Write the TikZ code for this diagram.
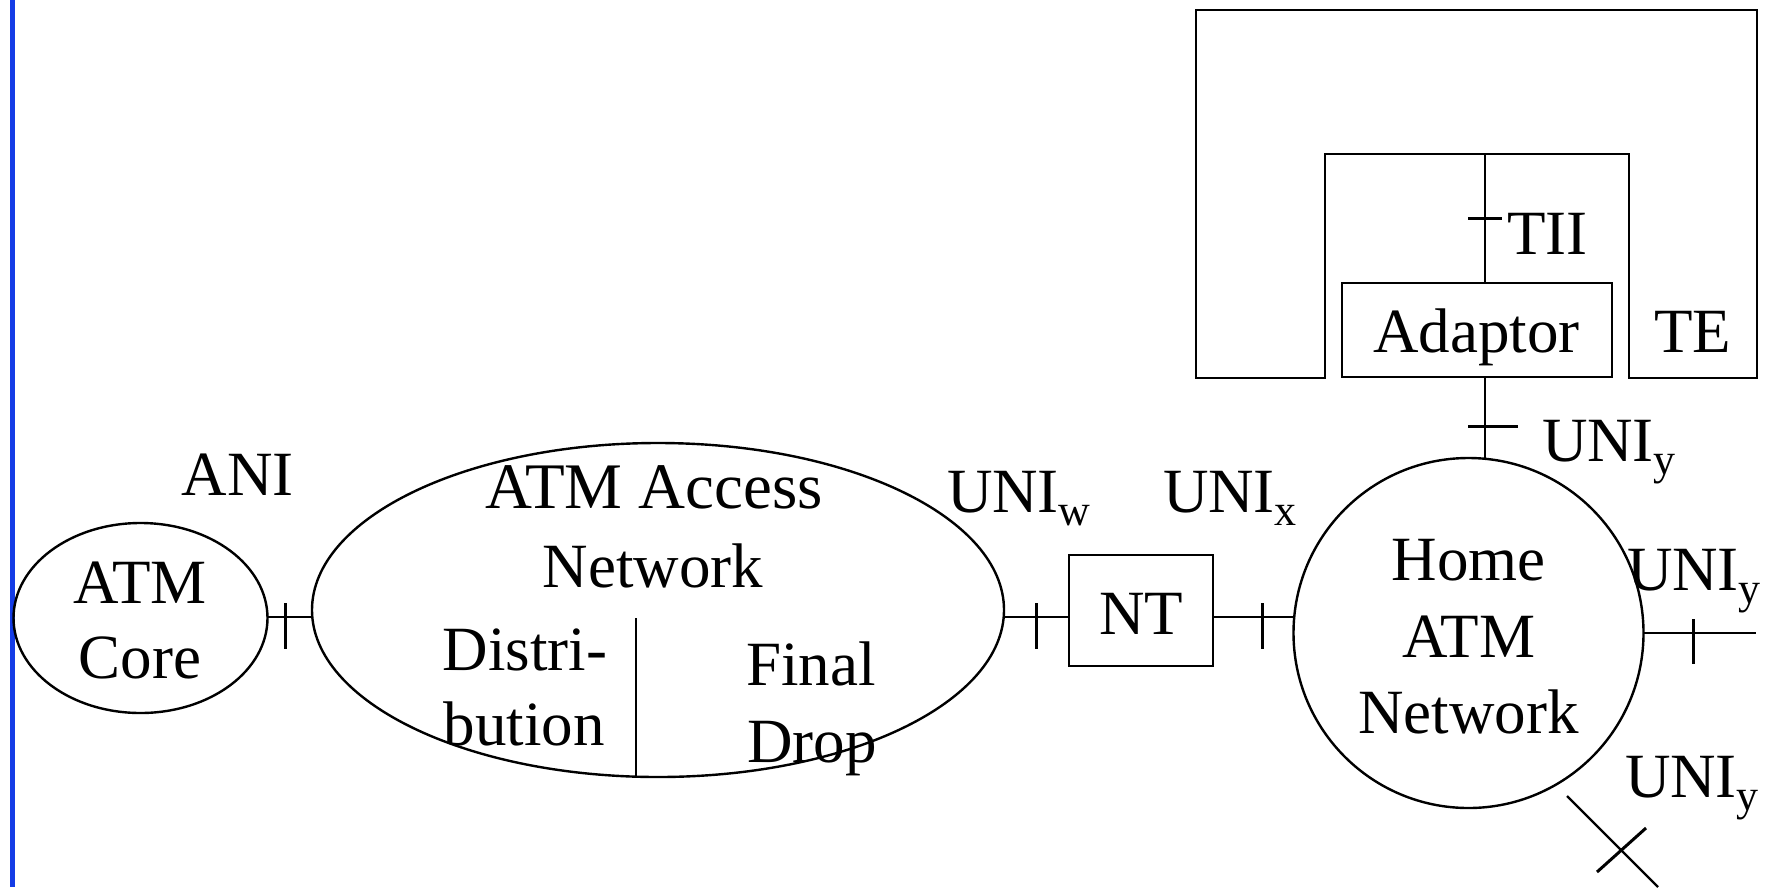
\documentclass[tikz,border=0pt]{standalone}
\usepackage{fontspec}
\setmainfont{Liberation Serif}
\usetikzlibrary{shapes.geometric,calc}
\definecolor{barblue}{RGB}{20,60,230}
\newcommand{\subtxt}[1]{\raisebox{-13pt}{\fontsize{44}{44}\selectfont #1}}
\begin{document}
\begin{tikzpicture}[x=1pt,y=-1pt,
  line/.style={line width=2.4pt},
  tickmark/.style={line width=3pt},
  shapebox/.style={draw,line width=2.4pt,inner sep=0pt,outer sep=0pt},
  txt/.style={inner sep=0pt,outer sep=0pt,anchor=base,font=\fontsize{63}{75}\selectfont},
  txtw/.style={txt,anchor=base west}]
\useasboundingbox (0,0) rectangle (1767,887);
% blue margin bar
\coordinate (bartop) at (12,0);
\coordinate (barbot) at (12,887);
\draw[barblue,line width=5pt] (bartop) -- (barbot);

% ATM core
\node[shapebox,ellipse,minimum width=254pt,minimum height=190pt] (core) at (140.5,618) {};
\node[txt] (coreA) at (140,603) {ATM};
\node[txt] (coreB) at (140,678) {Core};
\node[txt] (ani) at (237.5,495) {ANI};

% ATM access network
\node[shapebox,ellipse,minimum width=692pt,minimum height=334pt] (access) at (658,610) {};
\node[txt,font=\fontsize{65}{75}\selectfont] (accA) at (654,508) {ATM Access};
\node[txt] (accB) at (653,587) {Network};
\node[txt] (dist1) at (525,670) {Distri-};
\node[txt] (dist2) at (524,745) {bution};
\node[txt] (fin1) at (811,685) {Final};
\node[txt] (fin2) at (812,762) {Drop};
\coordinate (divtop) at (636,618);
\draw[line] (divtop) -- (divtop |- access.south);

% NT and home network
\node[shapebox,minimum width=144pt,minimum height=111pt] (nt) at (1141,610.5) {};
\node[txt] (ntT) at (1141,634) {NT};
\node[shapebox,circle,minimum size=350pt] (home) at (1468.5,633) {};
\node[txt] (homeA) at (1468.5,580) {Home};
\node[txt] (homeB) at (1468.5,657) {ATM};
\node[txt] (homeC) at (1468.5,733) {Network};

% horizontal chain
\coordinate (row) at (0,617);
\draw[line] (row -| core.east) -- (row -| access.west);
\draw[tickmark] (285,603) -- (285,649);
\draw[line] (row -| access.east) -- (row -| nt.west);
\draw[tickmark] (1036,603) -- (1036,649);
\draw[line] (row -| nt.east) -- (row -| home.west);
\draw[tickmark] (1262,603) -- (1262,649);
\node[txtw] (uniw) at (947,512) {UNI\subtxt{w}};
\node[txtw] (unix) at (1163,512) {UNI\subtxt{x}};

% TE and adaptor
\draw[line width=2.8pt] (1196,10) -- (1757,10) -- (1757,378) -- (1629,378) -- (1629,154)
  -- (1325,154) -- (1325,378) -- (1196,378) -- cycle;
\node[txt] (te) at (1692.5,352) {TE};
\node[shapebox,minimum width=270pt,minimum height=94pt] (adaptor) at (1477,330) {};
\node[txt] (adaptorT) at (1476.5,352) {Adaptor};
\coordinate (tiitop) at (1485,154);
\draw[line] (tiitop) -- (tiitop |- adaptor.north);
\draw[tickmark] (1468,218) -- (1502,218);
\node[txtw] (tii) at (1507,254) {TII};
\draw[line] (tiitop |- adaptor.south) -- (tiitop |- home.north);
\draw[tickmark] (1468,426) -- (1518,426);
\node[txtw] (uniyA) at (1542,461) {UNI\subtxt{y}};

% right-hand connector
\coordinate (rend) at (1756,633);
\draw[line] (home.east) -- (rend);
\draw[tickmark] (1693,619) -- (1693,664);
\node[txtw] (uniyB) at (1627,590) {UNI\subtxt{y}};

% lower diagonal connector
\coordinate (dstart) at (1567,796);
\coordinate (dend) at (1658,887);
\draw[line] (dstart) -- (dend);
\draw[tickmark] (1597,872) -- (1646,828);
\node[txtw] (uniyC) at (1625,797) {UNI\subtxt{y}};
\end{tikzpicture}
\end{document}
